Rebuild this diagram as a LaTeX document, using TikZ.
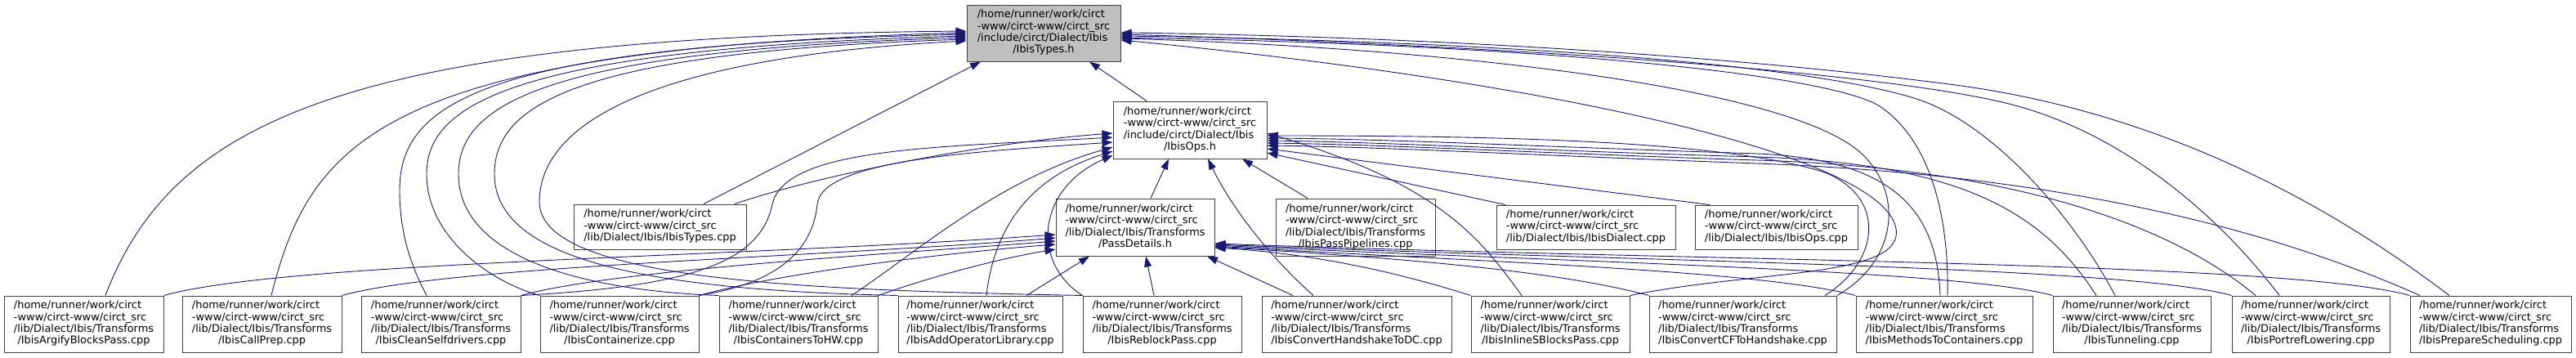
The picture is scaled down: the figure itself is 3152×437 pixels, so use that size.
\documentclass[tikz,border=0pt]{standalone}
\usepackage{fontspec}
\setmainfont{DejaVu Sans}
\usetikzlibrary{arrows.meta}
\definecolor{edgec}{HTML}{191970}
\definecolor{rootfill}{HTML}{BFBFBF}
\newcommand{\fourl}[4]{\begin{tabular}{@{}l@{}}#1\\#2\\#3\\\multicolumn{1}{@{}c@{}}{#4}\end{tabular}}
\newcommand{\threel}[3]{\begin{tabular}{@{}l@{}}#1\\#2\\#3\end{tabular}}
\newcommand{\tl}[1]{\fourl{/home/runner/work/circt}{-www/circt-www/circt\_src}{/lib/Dialect/Ibis/Transforms}{#1}}
\begin{document}
\begin{tikzpicture}[x=1pt,y=-1pt,
  font=\fontsize{12.9}{14.4}\selectfont,
  fbox/.style={draw=black!75, line width=1pt, fill=white, inner sep=0pt, minimum height=69pt},
  dep/.style={draw=edgec, line width=0.9pt, -{Triangle[length=13pt,width=9pt]}}]
\useasboundingbox (0,0) rectangle (3152,437);
% top and middle nodes
\node[fbox, fill=rootfill, minimum width=188pt] (T) at (1277,40.5) {\fourl{/home/runner/work/circt}{-www/circt-www/circt\_src}{/include/circt/Dialect/Ibis}{/IbisTypes.h}};
\node[fbox, minimum width=188pt, minimum height=70pt] (O) at (1456,159) {\fourl{/home/runner/work/circt}{-www/circt-www/circt\_src}{/include/circt/Dialect/Ibis}{/IbisOps.h}};
\node[fbox, minimum width=194pt, minimum height=70pt] (P) at (1389,278) {\tl{/PassDetails.h}};
\node[fbox, minimum width=211pt, minimum height=55pt] (TC) at (807.5,277.5) {\threel{/home/runner/work/circt}{-www/circt-www/circt\_src}{/lib/Dialect/Ibis/IbisTypes.cpp}};
\node[fbox, minimum width=195pt, minimum height=70pt] (PP) at (1658.5,278) {\tl{/IbisPassPipelines.cpp}};
\node[fbox, minimum width=219pt, minimum height=54pt] (D) at (1940.5,278) {\threel{/home/runner/work/circt}{-www/circt-www/circt\_src}{/lib/Dialect/Ibis/IbisDialect.cpp}};
\node[fbox, minimum width=199pt, minimum height=54pt] (OC) at (2173.5,278) {\threel{/home/runner/work/circt}{-www/circt-www/circt\_src}{/lib/Dialect/Ibis/IbisOps.cpp}};
% bottom row
\node[fbox, minimum width=195pt] (B1) at (102.5,396.5) {\tl{/IbisArgifyBlocksPass.cpp}};
\node[fbox, minimum width=195pt] (B2) at (320.5,396.5) {\tl{/IbisCallPrep.cpp}};
\node[fbox, minimum width=195pt] (B3) at (539.5,396.5) {\tl{/IbisCleanSelfdrivers.cpp}};
\node[fbox, minimum width=194pt] (B4) at (758,396.5) {\tl{/IbisContainerize.cpp}};
\node[fbox, minimum width=194pt] (B5) at (977,396.5) {\tl{/IbisContainersToHW.cpp}};
\node[fbox, minimum width=201pt] (B6) at (1199.5,396.5) {\tl{/IbisAddOperatorLibrary.cpp}};
\node[fbox, minimum width=194pt] (B7) at (1422,396.5) {\tl{/IbisReblockPass.cpp}};
\node[fbox, minimum width=232pt] (B8) at (1660,396.5) {\tl{/IbisConvertHandshakeToDC.cpp}};
\node[fbox, minimum width=194pt] (B9) at (1897,396.5) {\tl{/IbisInlineSBlocksPass.cpp}};
\node[fbox, minimum width=229pt] (B10) at (2132.5,396.5) {\tl{/IbisConvertCFToHandshake.cpp}};
\node[fbox, minimum width=216pt] (B11) at (2379,396.5) {\tl{/IbisMethodsToContainers.cpp}};
\node[fbox, minimum width=193pt] (B12) at (2608.5,396.5) {\tl{/IbisTunneling.cpp}};
\node[fbox, minimum width=193pt] (B13) at (2827.5,396.5) {\tl{/IbisPortrefLowering.cpp}};
\node[fbox, minimum width=197pt] (B14) at (3047.5,396.5) {\tl{/IbisPrepareScheduling.cpp}};

% ---- edges into IbisTypes.h ----
\draw[dep] (O.north west -| 1403,0) -- (T.south -| 1333,0);
\draw[dep] (TC.north -| 861,0) -- (T.south -| 1200,0);
\draw[dep] (B1.north -| 129,0) .. controls (210,150) and (420,45) .. (T.west |- 0,38);
\draw[dep] (B2.north -| 332,0) .. controls (380,170) and (470,60) .. (T.west |- 0,40);
\draw[dep] (B3.north -| 522,0) .. controls (500,320) and (489,280) .. (489,233) .. controls (489,130) and (580,55) .. (T.west |- 0,42);
\draw[dep] (B4.north west) .. controls (600,345) and (522,290) .. (522,213) .. controls (522,130) and (620,60) .. (T.west |- 0,44);
\draw[dep] (B5.north west) .. controls (700,355) and (561,310) .. (561,213) .. controls (561,130) and (660,62) .. (T.west |- 0,46);
\draw[dep] (B6.north west) .. controls (800,355) and (605,320) .. (605,213) .. controls (605,130) and (700,64) .. (T.west |- 0,48);
\draw[dep] (B7.north west) .. controls (1000,355) and (660,345) .. (660,247) .. controls (660,150) and (800,70) .. (T.west |- 0,50);
\draw[dep] (B9.north east) .. controls (2150,330) and (2330,340) .. (2320,280) .. controls (2305,190) and (1900,100) .. (T.east |- 0,49);
\draw[dep] (B10.north -| 2248,0) .. controls (2320,320) and (2330,240) .. (2280,190) .. controls (2200,110) and (1800,60) .. (T.east |- 0,47);
\draw[dep] (B11.north -| 2383,0) .. controls (2385,260) and (2360,170) .. (2300,130) .. controls (2240,92) and (1900,55) .. (T.east |- 0,46);
\draw[dep] (B12.north -| 2588,0) .. controls (2540,270) and (2440,150) .. (2342,120) .. controls (2195,75) and (1800,50) .. (T.east |- 0,44);
\draw[dep] (B13.north -| 2789,0) .. controls (2720,270) and (2600,160) .. (2450,125) .. controls (2300,90) and (1900,58) .. (T.east |- 0,42);
\draw[dep] (B14.north -| 2997,0) .. controls (2850,250) and (2650,140) .. (2400,105) .. controls (2100,65) and (1700,44) .. (T.east |- 0,40);

% ---- edges into IbisOps.h ----
\draw[dep] (P.north -| 1408,0) -- (O.south -| 1430,0);
\draw[dep] (PP.north -| 1600,0) -- (O.south -| 1520,0);
\draw[dep] (B8.north -| 1607,0) .. controls (1560,320) and (1510,260) .. (O.south -| 1478,0);
\draw[dep] (TC.north -| 899,0) .. controls (1000,215) and (1200,175) .. (O.west |- 0,163);
\draw[dep] (B3.north east) .. controls (850,350) and (930,320) .. (945,250) .. controls (960,180) and (1150,180) .. (O.west |- 0,168);
\draw[dep] (B4.north east) .. controls (960,345) and (995,300) .. (1000,250) .. controls (1005,195) and (1200,185) .. (O.west |- 0,174);
\draw[dep] (B5.north -| 1042,0) .. controls (1120,310) and (1220,220) .. (O.west |- 0,180);
\draw[dep] (B6.north -| 1207,0) .. controls (1215,290) and (1250,220) .. (O.west |- 0,185);
\draw[dep] (B7.north west) .. controls (1260,320) and (1270,230) .. (O.west |- 0,190);
\draw[dep] (B9.north -| 1862,0) .. controls (1810,290) and (1760,225) .. (O.east |- 0,163);
\draw[dep] (B10.north -| 2233,0) .. controls (2300,320) and (2310,240) .. (2230,210) .. controls (2100,170) and (1800,166) .. (O.east |- 0,166);
\draw[dep] (B11.north -| 2374,0) .. controls (2370,260) and (2320,195) .. (2150,188) .. controls (1900,180) and (1700,170) .. (O.east |- 0,169);
\draw[dep] (B12.north -| 2565,0) .. controls (2500,260) and (2400,200) .. (2150,192) .. controls (1900,185) and (1700,174) .. (O.east |- 0,172);
\draw[dep] (B13.north -| 2760,0) .. controls (2650,270) and (2450,205) .. (2150,196) .. controls (1900,188) and (1700,177) .. (O.east |- 0,175);
\draw[dep] (B14.north -| 2961,0) .. controls (2800,290) and (2550,215) .. (2150,200) .. controls (1900,191) and (1700,180) .. (O.east |- 0,178);
\draw[dep] (OC.north -| 2092,0) -- (O.east |- 0,182);
\draw[dep] (D.north -| 1842,0) -- (O.east |- 0,187);

% ---- edges into PassDetails.h ----
\draw[dep] (B1.north east) .. controls (350,320) and (900,315) .. (P.west |- 0,287);
\draw[dep] (B2.north east) .. controls (550,325) and (1000,315) .. (P.west |- 0,291);
\draw[dep] (B3.north east) .. controls (750,330) and (1100,310) .. (P.west |- 0,295);
\draw[dep] (B4.north east) .. controls (950,335) and (1150,310) .. (P.west |- 0,299);
\draw[dep] (B5.north east) .. controls (1150,335) and (1230,315) .. (P.west |- 0,305);
\draw[dep] (B6.north -| 1256,0) -- (P.south -| 1333,0);
\draw[dep] (B7.north -| 1412,0) -- (P.south -| 1402,0);
\draw[dep] (B8.north -| 1582,0) -- (P.south -| 1477,0);
\draw[dep] (B9.north west) .. controls (1700,330) and (1600,310) .. (P.east |- 0,303);
\draw[dep] (B10.north west) .. controls (1900,330) and (1700,315) .. (P.east |- 0,302);
\draw[dep] (B11.north west) .. controls (2150,330) and (1800,320) .. (P.east |- 0,301);
\draw[dep] (B12.north west) .. controls (2400,330) and (1900,320) .. (P.east |- 0,300);
\draw[dep] (B13.north west) .. controls (2600,325) and (2000,320) .. (P.east |- 0,299);
\draw[dep] (B14.north west) .. controls (2800,320) and (2100,320) .. (P.east |- 0,298);
\end{tikzpicture}
\end{document}
